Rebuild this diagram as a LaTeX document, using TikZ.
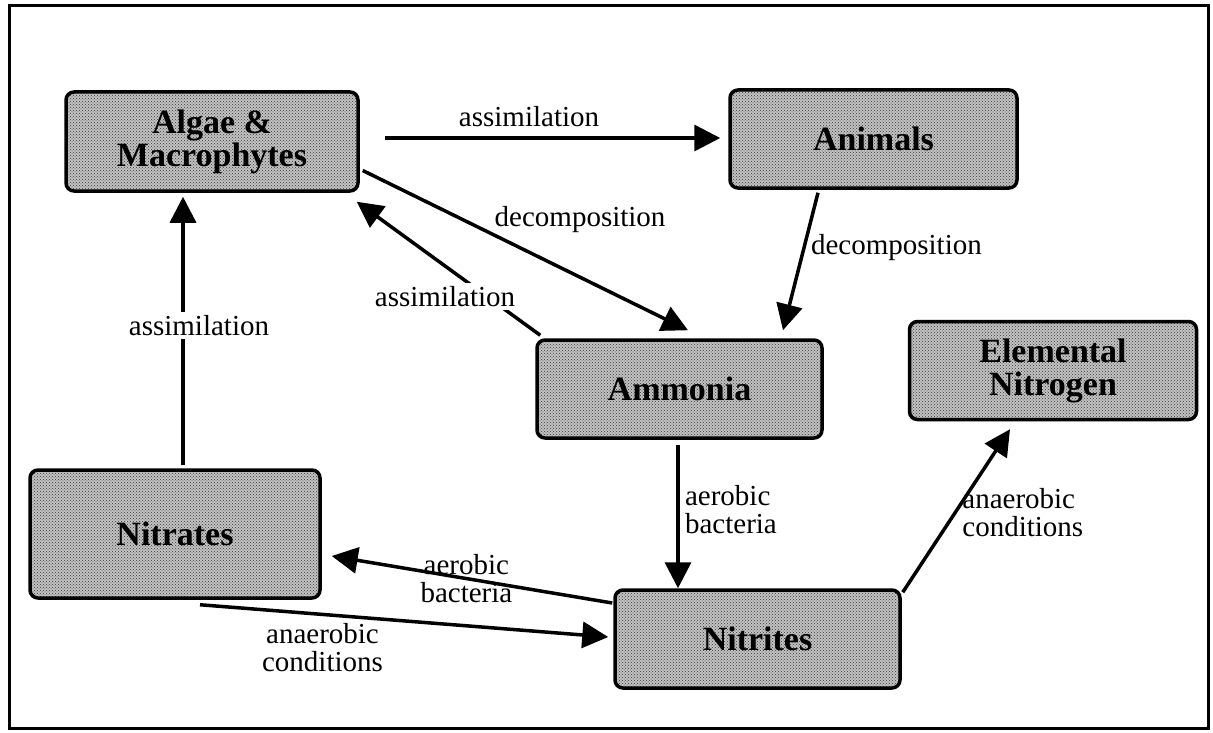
\documentclass[tikz,border=0pt]{standalone}
\usepackage{fontspec}
\setmainfont{Liberation Serif}
\usetikzlibrary{arrows.meta,patterns}

\begin{document}
\begin{tikzpicture}[x=1pt, y=-1pt,
    pool/.style={draw=black, line width=3.5pt, rounded corners=8pt,
      preaction={fill=gray!48}, pattern=crosshatch dots, pattern color=gray!45!black,
      minimum width=287pt, minimum height=98pt, align=center,
      font=\fontsize{34}{33}\selectfont\bfseries},
    flow/.style={-{Triangle[length=26pt,width=26pt]}, line width=3.5pt},
    lbl/.style={font=\fontsize{29}{28}\selectfont, align=left}]
  \useasboundingbox (0,0) rectangle (1213,733);
  \draw[line width=3pt] (9,6) rectangle (1208,728);

  % compartments
  \node[pool, minimum width=292pt, minimum height=99pt] (algae) at (212,141.5) {Algae \&\\Macrophytes};
  \node[pool] (animals) at (873.5,139) {Animals};
  \node[pool, minimum width=285pt] (ammonia) at (679.5,389) {Ammonia};
  \node[pool] (elemental) at (1053,370.5) {Elemental\\Nitrogen};
  \node[pool, minimum width=290pt, minimum height=128pt] (nitrates) at (175,534) {Nitrates};
  \node[pool, minimum width=285pt] (nitrites) at (757.5,639) {Nitrites};

  % fluxes
  \draw[flow] ([shift={(25,-3.5)}]algae.east) -- ([shift={(-8,-1)}]animals.west)
    node[lbl, pos=0.43, above=6pt] {assimilation};
  \draw[flow] ([shift={(3,29)}]algae.east) -- ([shift={(8.5,-8)}]ammonia.north)
    node[lbl, pos=0.39, anchor=west, yshift=13pt] {decomposition};
  \draw[flow] ([shift={(5,-3)}]ammonia.north west) -- ([shift={(-3,9)}]algae.south east)
    node[lbl, fill=white, pos=0.29, xshift=-42pt] {assimilation};
  \draw[flow] ([shift={(-55.5,3)}]animals.south) -- ([shift={(103.5,-8)}]ammonia.north)
    node[lbl, pos=0.4, anchor=west, xshift=2pt] {decomposition};
  \draw[flow] ([shift={(8,-3)}]nitrates.north) -- ([shift={(-29,4)}]algae.south)
    node[lbl, fill=white, pos=0.52, xshift=16pt] {assimilation};
  \draw[flow] ([shift={(-1.5,5)}]ammonia.south) -- ([shift={(-79.5,0)}]nitrites.north)
    node[lbl, pos=0.45, anchor=west, xshift=2pt] {aerobic\\bacteria};
  \draw[flow] ([shift={(-1,-36)}]nitrites.west) -- ([shift={(10,22)}]nitrates.east)
    node[lbl, pos=0.52, align=center] {aerobic\\bacteria};
  \draw[flow] ([shift={(25,5)}]nitrates.south) -- ([shift={(-5,-2)}]nitrites.west)
    node[lbl, pos=0.3, anchor=north, yshift=-4pt, align=center] {anaerobic\\conditions};
  \draw[flow] ([shift={(1,4)}]nitrites.north east) -- ([shift={(-43,8)}]elemental.south)
    node[lbl, pos=0.49, anchor=west, xshift=2pt] {anaerobic\\conditions};
\end{tikzpicture}
\end{document}
